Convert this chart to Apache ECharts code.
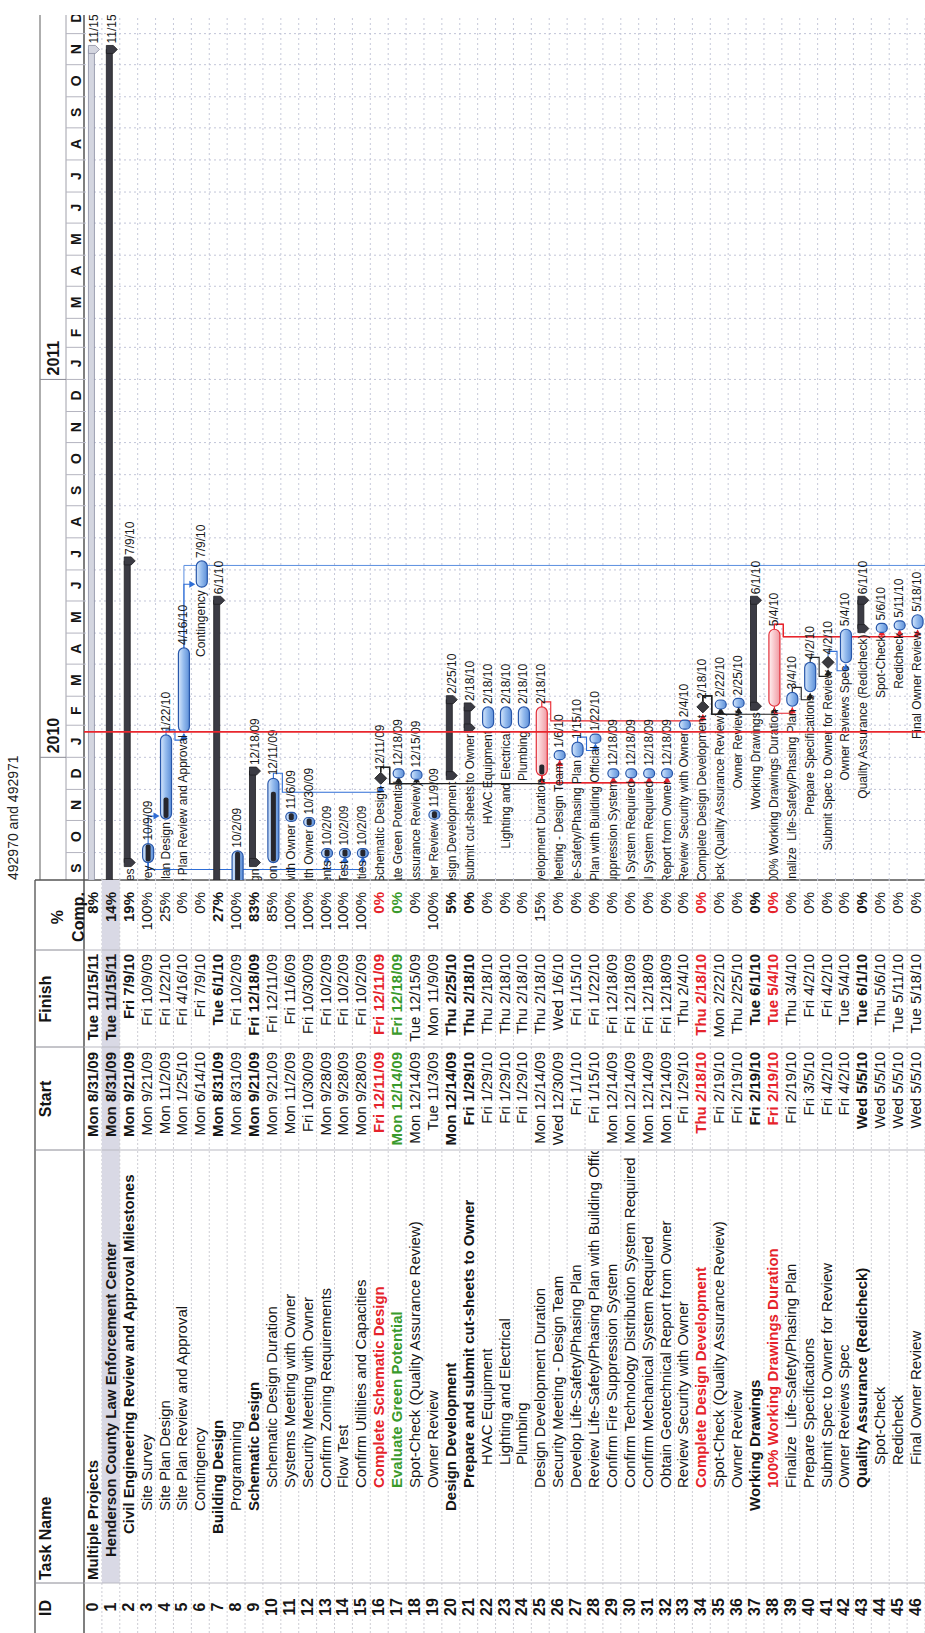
<!DOCTYPE html>
<html>
<head>
<meta charset="utf-8">
<script src="https://cdn.jsdelivr.net/npm/echarts@6/dist/echarts.min.js"></script>
<style>
  html, body { margin: 0; padding: 0; background: #fff; overflow: hidden; }
  /* the schedule is laid out landscape and turned a quarter-turn onto the portrait page */
  #page {
    position: absolute; left: 0; top: 0;
    width: 1633px; height: 925px;
    transform-origin: 0 0;
    transform: translate(0, 1633px) rotate(-90deg);
    background: #fff;
  }
</style>
</head>
<body>
<div id="page"></div>
<script>
// ---------------- schedule data ----------------
const taskNames = [
  'Multiple Projects',
  'Henderson County Law Enforcement Center',
  'Civil Engineering Review and Approval Milestones',
  'Site Survey',
  'Site Plan Design',
  'Site Plan Review and Approval',
  'Contingency',
  'Building Design',
  'Programming',
  'Schematic Design',
  'Schematic Design Duration',
  'Systems Meeting with Owner',
  'Security Meeting with Owner',
  'Confirm Zoning Requirements',
  'Flow Test',
  'Confirm Utilities and Capacities',
  'Complete Schematic Design',
  'Evaluate Green Potential',
  'Spot-Check (Quality Assurance Review)',
  'Owner Review',
  'Design Development',
  'Prepare and submit cut-sheets to Owner',
  'HVAC Equipment',
  'Lighting and Electrical',
  'Plumbing',
  'Design Development Duration',
  'Security Meeting - Design Team',
  'Develop Life-Safety/Phasing Plan',
  'Review Life-Safety/Phasing Plan with Building Official',
  'Confirm Fire Suppression System',
  'Confirm Technology Distribution System Required',
  'Confirm Mechanical System Required',
  'Obtain Geotechnical Report from Owner',
  'Review Security with Owner',
  'Complete Design Development',
  'Spot-Check (Quality Assurance Review)',
  'Owner Review',
  'Working Drawings',
  '100% Working Drawings Duration',
  'Finalize  Life-Safety/Phasing Plan',
  'Prepare Specifications',
  'Submit Spec to Owner for Review',
  'Owner Reviews Spec',
  'Quality Assurance (Redicheck)',
  'Spot-Check',
  'Redicheck',
  'Final Owner Review'
];

const taskStart = [
  '2009-08-31', '2009-08-31', '2009-09-21', '2009-09-21', '2009-11-02',
  '2010-01-25', '2010-06-14', '2009-08-31', '2009-08-31', '2009-09-21',
  '2009-09-21', '2009-11-02', '2009-10-30', '2009-09-28', '2009-09-28',
  '2009-09-28', '2009-12-11', '2009-12-14', '2009-12-14', '2009-11-03',
  '2009-12-14', '2010-01-29', '2010-01-29', '2010-01-29', '2010-01-29',
  '2009-12-14', '2009-12-30', '2010-01-01', '2010-01-15', '2009-12-14',
  '2009-12-14', '2009-12-14', '2009-12-14', '2010-01-29', '2010-02-18',
  '2010-02-19', '2010-02-19', '2010-02-19', '2010-02-19', '2010-02-19',
  '2010-03-05', '2010-04-02', '2010-04-02', '2010-05-05', '2010-05-05',
  '2010-05-05', '2010-05-05'
];

const taskFinish = [
  '2011-11-15', '2011-11-15', '2010-07-09', '2009-10-09', '2010-01-22',
  '2010-04-16', '2010-07-09', '2010-06-01', '2009-10-02', '2009-12-18',
  '2009-12-11', '2009-11-06', '2009-10-30', '2009-10-02', '2009-10-02',
  '2009-10-02', '2009-12-11', '2009-12-18', '2009-12-15', '2009-11-09',
  '2010-02-25', '2010-02-18', '2010-02-18', '2010-02-18', '2010-02-18',
  '2010-02-18', '2010-01-06', '2010-01-15', '2010-01-22', '2009-12-18',
  '2009-12-18', '2009-12-18', '2009-12-18', '2010-02-04', '2010-02-18',
  '2010-02-22', '2010-02-25', '2010-06-01', '2010-05-04', '2010-03-04',
  '2010-04-02', '2010-04-02', '2010-05-04', '2010-06-01', '2010-05-06',
  '2010-05-11', '2010-05-18'
];

const pctComplete = [
  8, 14, 19, 100, 25, 0, 0, 27, 100, 83,
  85, 100, 100, 100, 100, 100, 0, 0, 0, 100,
  5, 0, 0, 0, 0, 15, 0, 0, 0, 0,
  0, 0, 0, 0, 0, 0, 0, 0, 0, 0,
  0, 0, 0, 0, 0, 0, 0
];

const outlineLevel = [
  0, 1, 2, 3, 3, 3, 3, 2, 3, 3,
  4, 4, 4, 4, 4, 4, 4, 4, 4, 4,
  3, 4, 5, 5, 5, 4, 4, 4, 4, 4,
  4, 4, 4, 4, 4, 4, 4, 3, 4, 4,
  4, 4, 4, 4, 5, 5, 5
];

const projectRow = 0;
const selectedRow = 1;
const summaryRows = [1, 2, 7, 9, 20, 21, 37, 43];
const milestoneRows = [16, 34, 41];
const criticalRows = [25, 38];
const boldRows = [0, 1, 2, 7, 9, 16, 17, 20, 21, 34, 37, 38, 43];
const redRows = [16, 34, 38];
const greenRows = [17];

// predecessor, successor, link type, link class
const links = [
  [3, 4, 'FS', 'normal'],
  [3, 13, 'SS', 'normal'],
  [3, 14, 'SS', 'normal'],
  [3, 15, 'SS', 'normal'],
  [4, 5, 'FS', 'normal'],
  [5, 6, 'FS', 'normal'],
  [10, 16, 'FS', 'normal'],
  [16, 17, 'FS', 'plain'],
  [16, 18, 'FS', 'plain'],
  [16, 25, 'FS', 'plain'],
  [25, 26, 'SS', 'critical'],
  [25, 29, 'SS', 'critical'],
  [25, 30, 'SS', 'critical'],
  [25, 31, 'SS', 'critical'],
  [25, 32, 'SS', 'critical'],
  [27, 28, 'FS', 'normal'],
  [25, 34, 'FS', 'critical'],
  [34, 35, 'FS', 'plain'],
  [34, 36, 'FS', 'plain'],
  [34, 38, 'FS', 'plain'],
  [38, 39, 'SS', 'critical'],
  [39, 40, 'FS', 'plain'],
  [40, 41, 'FS', 'plain'],
  [41, 42, 'FS', 'normal'],
  [38, 44, 'FS', 'critical'],
  [38, 45, 'FS', 'critical'],
  [38, 46, 'FS', 'critical']
];
// successors that continue past the last listed task
const openLinks = [[5, '2010-07-05']];

const statusDate = '2010-01-25';
const timelineStart = ['2009-09-04', 12];
const timelineEnd = ['2011-12-19', 0];
const monthLetters = ['J', 'F', 'M', 'A', 'M', 'J', 'J', 'A', 'S', 'O', 'N', 'D'];
const yearLabels = ['2010', '2011'];
const tableHeaders = ['ID', 'Task Name', 'Start', 'Finish', '%', 'Comp.'];
const pageTitle = '492970 and 492971';

// ---------------- helpers ----------------
const FONT = '"Liberation Sans", Arial, sans-serif';
const WEEKDAYS = ['Sun', 'Mon', 'Tue', 'Wed', 'Thu', 'Fri', 'Sat'];
const ROWS = taskNames.map((_, i) => i);

function parts(s) { return s.split('-').map(Number); }
function ts(s, hour) { const [y, m, d] = parts(s); return new Date(y, m - 1, d, hour || 0).getTime(); }
function tableDate(s) {
  const [y, m, d] = parts(s);
  return WEEKDAYS[new Date(y, m - 1, d).getDay()] + ' ' + m + '/' + d + '/' + String(y % 100).padStart(2, '0');
}
function shortDate(s) { const [y, m, d] = parts(s); return m + '/' + d + '/' + String(y % 100).padStart(2, '0'); }

function kindOf(i) {
  if (i === projectRow) return 'project';
  if (summaryRows.includes(i)) return 'summary';
  if (milestoneRows.includes(i)) return 'milestone';
  if (criticalRows.includes(i)) return 'critical';
  return 'task';
}
function barStart(i) { return kindOf(i) === 'milestone' ? ts(taskFinish[i], 17) : ts(taskStart[i], 8); }
function barEnd(i) { return ts(taskFinish[i], 17); }

const T0 = ts(timelineStart[0], timelineStart[1]);
const T1 = ts(timelineEnd[0], timelineEnd[1]);

// layout of the landscape sheet
const TABLE_W = 753;
const GANTT_W = 865;
const BODY_TOP = 84;
const ROW_H = 17.94;
const BODY_H = ROW_H * taskNames.length;
const COL = [0, 50, 483, 586, 683, 753];
const BAR_H = 11;
const TABLE_FONT = 15;

function txt(text, x, y, opt) {
  opt = opt || {};
  return {
    type: 'text',
    style: {
      text: text, x: x, y: y,
      fill: opt.fill || '#161616',
      fontSize: opt.size || TABLE_FONT,
      fontWeight: opt.bold ? 'bold' : 'normal',
      fontFamily: FONT,
      align: opt.align || 'left', textAlign: opt.align || 'left',
      verticalAlign: 'middle', textVerticalAlign: 'middle'
    }
  };
}

// ---------------- table ----------------
function renderTableRow(params, api) {
  const i = api.value(1);
  const h = api.size([0, 1])[1];
  const cy = api.coord([0, i])[1];
  const top = cy - h / 2, bot = cy + h / 2;
  const px = v => api.coord([v, i])[0];
  const bold = boldRows.includes(i);
  const color = redRows.includes(i) ? '#e5232b' : (greenRows.includes(i) ? '#3a9a2c' : '#161616');
  const ch = [];
  if (i === selectedRow) {
    ch.push({ type: 'rect', shape: { x: px(COL[1]), y: top, width: px(COL[5]) - px(COL[1]), height: h },
      style: { fill: '#d9d9e5' } });
  }
  ch.push({ type: 'line', shape: { x1: px(COL[0]), y1: bot, x2: px(COL[5]), y2: bot },
    style: { stroke: '#cdcdd4', lineWidth: 1, lineDash: [2, 2] } });
  for (let c = 1; c < COL.length - 1; c++) {
    ch.push({ type: 'line', shape: { x1: px(COL[c]), y1: top, x2: px(COL[c]), y2: bot },
      style: { stroke: '#b9b9c2', lineWidth: 1 } });
  }
  const ty = cy - 0.5;
  ch.push(txt(String(i), px(26), ty, { bold: true, size: 16, align: 'center' }));
  const nameX = px(53 + outlineLevel[i] * 23);
  ch.push({
    type: 'group',
    clipPath: { type: 'rect', shape: { x: px(COL[1]), y: top, width: px(COL[2]) - px(COL[1]) - 1, height: h } },
    children: [txt(taskNames[i], nameX, ty, { bold: bold, fill: color })]
  });
  ch.push(txt(tableDate(taskStart[i]), px(COL[3]) - 5, ty, { bold: bold, fill: color, align: 'right' }));
  ch.push(txt(tableDate(taskFinish[i]), px(COL[4]) - 4, ty, { bold: bold, fill: color, align: 'right' }));
  ch.push(txt(pctComplete[i] + '%', px(COL[5]) - 12, ty, { bold: bold, fill: color, align: 'right' }));
  return { type: 'group', children: ch };
}

// ---------------- gantt ----------------
function blueFill() {
  return new echarts.graphic.LinearGradient(0, 0, 0, 1, [
    { offset: 0, color: '#d7e7fb' }, { offset: 0.45, color: '#97bdee' }, { offset: 1, color: '#5d8fd8' }
  ]);
}
function pinkFill() {
  return new echarts.graphic.LinearGradient(0, 0, 0, 1, [
    { offset: 0, color: '#fff0f1' }, { offset: 0.5, color: '#f8c4c9' }, { offset: 1, color: '#ef9aa3' }
  ]);
}

function barShift(i) {
  const k = kindOf(i);
  return (k === 'summary' || k === 'project') ? -1.5 : 1.5;
}
function barHalf(i) {
  const k = kindOf(i);
  if (k === 'milestone') return 6;
  if (k === 'summary' || k === 'project') return 3;
  return BAR_H / 2;
}

function renderTask(params, api) {
  const i = api.value(1);
  const kind = kindOf(i);
  const pct = api.value(3);
  const p0 = api.coord([api.value(0), i]);
  const p1 = api.coord([api.value(2), i]);
  const cy = p0[1];
  let x0 = p0[0], x1 = p1[0];
  const ch = [];
  let lx, rx;
  if (kind === 'milestone') {
    const my = cy + 1.5;
    ch.push({ type: 'polygon', shape: { points: [[x1, my - 6], [x1 + 6, my], [x1, my + 6], [x1 - 6, my]] },
      style: { fill: '#3a3a40', stroke: '#111', lineWidth: 0.8 } });
    lx = x1 - 8; rx = x1 + 8;
  } else if (kind === 'summary' || kind === 'project') {
    const proj = kind === 'project';
    const yT = cy - 4.5;
    const fill = proj ? '#d4d6e0' : '#3b3b44';
    const stroke = proj ? '#8b8ea2' : '#1e1e22';
    ch.push({ type: 'rect', shape: { x: x0, y: yT, width: x1 - x0, height: 6 },
      style: { fill: fill, stroke: stroke, lineWidth: 0.8 } });
    [x0, x1].forEach(x => ch.push({ type: 'polygon',
      shape: { points: [[x - 4, yT], [x + 4, yT], [x + 4, yT + 7], [x, yT + 11], [x - 4, yT + 7]] },
      style: { fill: fill, stroke: stroke, lineWidth: 0.8 } }));
    lx = x0 - 6; rx = x1 + 6;
  } else {
    const crit = kind === 'critical';
    let w = x1 - x0;
    if (w < 9) { const c = (x0 + x1) / 2; x0 = c - 4.5; x1 = c + 4.5; w = 9; }
    const yc = cy + 1.5;
    ch.push({ type: 'rect', shape: { x: x0, y: yc - BAR_H / 2, width: w, height: BAR_H, r: BAR_H / 2 },
      style: { fill: crit ? pinkFill() : blueFill(), stroke: crit ? '#e2303a' : '#2857aa', lineWidth: 1.2 } });
    if (pct > 0) {
      ch.push({ type: 'rect', shape: { x: x0 + 1, y: yc - 2.5, width: Math.max(2, (w - 2) * pct / 100), height: 5, r: 2 },
        style: { fill: '#27272e' } });
    }
    lx = x0 - 3; rx = x1 + 3;
  }
  ch.push(txt(taskNames[i], lx, cy + 1, { size: 12, align: 'right', fill: '#1a1a1a' }));
  ch.push(txt(shortDate(taskFinish[i]), rx, cy + 1, { size: 12, fill: '#1a1a1a' }));
  return { type: 'group', children: ch };
}

const LINK_COLORS = { normal: '#2f6ed6', plain: '#202020', critical: '#e8242c' };
function arrowDown(x, y, c) {
  return { type: 'polygon', shape: { points: [[x - 3.5, y - 6], [x + 3.5, y - 6], [x, y]] }, style: { fill: c } };
}
function arrowRight(x, y, c) {
  return { type: 'polygon', shape: { points: [[x - 6, y - 3.5], [x - 6, y + 3.5], [x, y]] }, style: { fill: c } };
}

function renderLink(params, api) {
  const k = api.value(2);
  const [a, b, how, cls] = links[k];
  const color = LINK_COLORS[cls];
  const h = api.size([0, 1])[1];
  const ya = api.coord([T0, a])[1] + barShift(a);
  const yb = api.coord([T0, b])[1] + barShift(b);
  const ch = [];
  let pts;
  if (how === 'SS') {
    const xa = api.coord([barStart(a), a])[0];
    const xb = api.coord([barStart(b), b])[0] - (kindOf(b) === 'milestone' ? 6 : 0);
    const xm = Math.min(xa, xb) - 7;
    pts = [[xa, ya], [xm, ya], [xm, yb], [xb - 1, yb]];
    ch.push(arrowRight(xb - 1, yb, color));
  } else {
    const xa = api.coord([barEnd(a), a])[0] + (kindOf(a) === 'milestone' ? 6 : 0);
    const xb = api.coord([barStart(b), b])[0] - (kindOf(b) === 'milestone' ? 6 : 0);
    if (xb >= xa + 4) {
      const xv = xb + 3;
      const yt = yb - barHalf(b) - 1;
      pts = [[xa, ya], [xv, ya], [xv, yt - 5]];
      ch.push(arrowDown(xv, yt, color));
    } else {
      const ym = ya + h / 2;
      pts = [[xa, ya], [xa + 5, ya], [xa + 5, ym], [xb - 8, ym], [xb - 8, yb], [xb - 2, yb]];
      ch.push(arrowRight(xb - 1, yb, color));
    }
  }
  ch.unshift({ type: 'polyline', shape: { points: pts }, style: { stroke: color, lineWidth: 1.1, fill: null } });
  return { type: 'group', children: ch };
}

function renderOpenLink(params, api) {
  const k = api.value(2);
  const [a, d] = openLinks[k];
  const cs = params.coordSys;
  const ya = api.coord([T0, a])[1] + barShift(a);
  const xa = api.coord([barEnd(a), a])[0];
  const xv = api.coord([ts(d, 8), a])[0];
  return { type: 'polyline', shape: { points: [[xa, ya], [xv, ya], [xv, cs.y + cs.height]] },
    style: { stroke: '#5b8fe0', lineWidth: 1, fill: null } };
}

function renderRowLine(params, api) {
  const i = api.value(1);
  const cs = params.coordSys;
  const y = api.coord([T0, i])[1] + api.size([0, 1])[1] / 2;
  return { type: 'line', shape: { x1: cs.x, y1: y, x2: cs.x + cs.width, y2: y },
    style: { stroke: '#c6c9da', lineWidth: 1, lineDash: [2, 3] } };
}

function renderMonthLine(params, api) {
  const cs = params.coordSys;
  const x = api.coord([api.value(0), 0])[0];
  return { type: 'line', shape: { x1: x, y1: cs.y, x2: x, y2: cs.y + cs.height },
    style: { stroke: '#c2c5d8', lineWidth: 1, lineDash: [2, 3] } };
}

function renderStatus(params, api) {
  const cs = params.coordSys;
  const x = api.coord([api.value(0), 0])[0];
  return { type: 'line', shape: { x1: x, y1: cs.y, x2: x, y2: cs.y + cs.height },
    style: { stroke: '#e8262d', lineWidth: 1.8 } };
}

// ---------------- timescale ----------------
const monthCells = [];
for (let y = 2009, m = 8; y < 2012; ) {
  const s = new Date(y, m, 1).getTime();
  const ny = m === 11 ? y + 1 : y, nm = (m + 1) % 12;
  monthCells.push([s, 0, new Date(ny, nm, 1).getTime(), m, 1]);
  y = ny; m = nm;
}
const yearCells = yearLabels.map((lab, k) => {
  const y = Number(lab);
  return [new Date(y, 0, 1).getTime(), 0, new Date(y + 1, 0, 1).getTime(), k, 0];
});

function renderScale(params, api) {
  const cs = params.coordSys;
  const s = api.value(0), e = api.value(2), lab = api.value(3), tier = api.value(4);
  const x0 = api.coord([s, 0])[0], x1 = api.coord([e, 0])[0];
  const split = cs.y + 26;
  const ch = [];
  if (tier === 0) {
    ch.push({ type: 'line', shape: { x1: x0, y1: cs.y, x2: x0, y2: split }, style: { stroke: '#8a8a94', lineWidth: 1 } });
    ch.push(txt(yearLabels[lab], x0 + 4, cs.y + 13.5, { bold: true, size: 16 }));
  } else {
    ch.push({ type: 'line', shape: { x1: x0, y1: split, x2: x0, y2: cs.y + cs.height }, style: { stroke: '#b4b4bf', lineWidth: 1 } });
    ch.push(txt(monthLetters[lab], (x0 + x1) / 2, split + 10, { bold: true, size: 14, align: 'center' }));
  }
  return { type: 'group', children: ch };
}

// ---------------- sheet frame ----------------
const GX = TABLE_W, GR = TABLE_W + GANTT_W;
const frame = [
  { type: 'text', x: 0, y: 0, style: { text: pageTitle, x: GX, y: 13, fill: '#222', fontSize: 14, fontFamily: FONT,
    align: 'left', textAlign: 'left', verticalAlign: 'middle', textVerticalAlign: 'middle' } },
  { type: 'line', shape: { x1: 0, y1: 35, x2: GX, y2: 35 }, style: { stroke: '#666', lineWidth: 1.5 } },
  { type: 'line', shape: { x1: GX, y1: 40, x2: GR, y2: 40 }, style: { stroke: '#777', lineWidth: 1.2 } },
  { type: 'line', shape: { x1: GX, y1: 66, x2: GR, y2: 66 }, style: { stroke: '#a0a0aa', lineWidth: 1 } },
  { type: 'line', shape: { x1: 0, y1: BODY_TOP, x2: GR, y2: BODY_TOP }, style: { stroke: '#555', lineWidth: 1.5 } },
  { type: 'line', shape: { x1: GX, y1: 35, x2: GX, y2: 930 }, style: { stroke: '#555', lineWidth: 1.5 } }
];
for (let c = 1; c < COL.length - 1; c++) {
  frame.push({ type: 'line', shape: { x1: COL[c], y1: 35, x2: COL[c], y2: BODY_TOP }, style: { stroke: '#8a8a94', lineWidth: 1 } });
}
const headPos = [[25, 45, 'center'], [53, 45, 'left'], [534, 45, 'center'], [634, 45, 'center'], [716, 57, 'center'], [716, 78, 'center']];
tableHeaders.forEach((t, k) => {
  const [x, y, al] = headPos[k];
  frame.push({ type: 'text', style: { text: t, x: x, y: y, fill: '#141414', fontSize: 16, fontWeight: 'bold', fontFamily: FONT,
    align: al, textAlign: al, verticalAlign: 'middle', textVerticalAlign: 'middle' } });
});

// ---------------- chart ----------------
const chart = echarts.init(document.getElementById('page'), null, { renderer: 'svg', width: 1633, height: 925 });
const rowCats = ROWS.map(String);

chart.setOption({
  animation: false,
  backgroundColor: '#ffffff',
  grid: [
    { left: GX, top: BODY_TOP, width: GANTT_W, height: BODY_H, show: false },
    { left: 0, top: BODY_TOP, width: TABLE_W, height: BODY_H, show: false },
    { left: GX, top: 40, width: GANTT_W, height: BODY_TOP - 40, show: false }
  ],
  xAxis: [
    { gridIndex: 0, type: 'time', min: T0, max: T1, show: false },
    { gridIndex: 1, type: 'value', min: 0, max: TABLE_W, show: false },
    { gridIndex: 2, type: 'time', min: T0, max: T1, show: false }
  ],
  yAxis: [
    { gridIndex: 0, type: 'category', data: rowCats, inverse: true, show: false },
    { gridIndex: 1, type: 'category', data: rowCats, inverse: true, show: false },
    { gridIndex: 2, type: 'value', min: 0, max: 1, show: false }
  ],
  graphic: { elements: frame },
  series: [
    { type: 'custom', name: 'rowLines', xAxisIndex: 0, yAxisIndex: 0, clip: true, z: 1, silent: true,
      data: ROWS.map(i => [T0, i]), encode: { x: 0, y: 1 }, renderItem: renderRowLine },
    { type: 'custom', name: 'monthLines', xAxisIndex: 0, yAxisIndex: 0, clip: true, z: 1, silent: true,
      data: monthCells.map(m => [m[0], 0]), encode: { x: 0, y: 1 }, renderItem: renderMonthLine },
    { type: 'custom', name: 'openLinks', xAxisIndex: 0, yAxisIndex: 0, clip: true, z: 2, silent: true,
      data: openLinks.map((l, k) => [barEnd(l[0]), l[0], k]), encode: { x: 0, y: 1 }, renderItem: renderOpenLink },
    { type: 'custom', name: 'links', xAxisIndex: 0, yAxisIndex: 0, clip: true, z: 2, silent: true,
      data: links.map((l, k) => [barEnd(l[0]), l[0], k]), encode: { x: 0, y: 1 }, renderItem: renderLink },
    { type: 'custom', name: 'tasks', xAxisIndex: 0, yAxisIndex: 0, clip: true, z: 3, silent: true,
      data: ROWS.map(i => [barStart(i), i, barEnd(i), pctComplete[i]]), encode: { x: [0, 2], y: 1 }, renderItem: renderTask },
    { type: 'custom', name: 'status', xAxisIndex: 0, yAxisIndex: 0, clip: true, z: 4, silent: true,
      data: [[ts(statusDate, 12), 0]], encode: { x: 0, y: 1 }, renderItem: renderStatus },
    { type: 'custom', name: 'table', xAxisIndex: 1, yAxisIndex: 1, z: 3, silent: true,
      data: ROWS.map(i => [0, i]), encode: { x: 0, y: 1 }, renderItem: renderTableRow },
    { type: 'custom', name: 'timescale', xAxisIndex: 2, yAxisIndex: 2, clip: true, z: 3, silent: true,
      data: monthCells.concat(yearCells), encode: { x: [0, 2], y: 1 }, renderItem: renderScale }
  ]
});
</script>
</body>
</html>
